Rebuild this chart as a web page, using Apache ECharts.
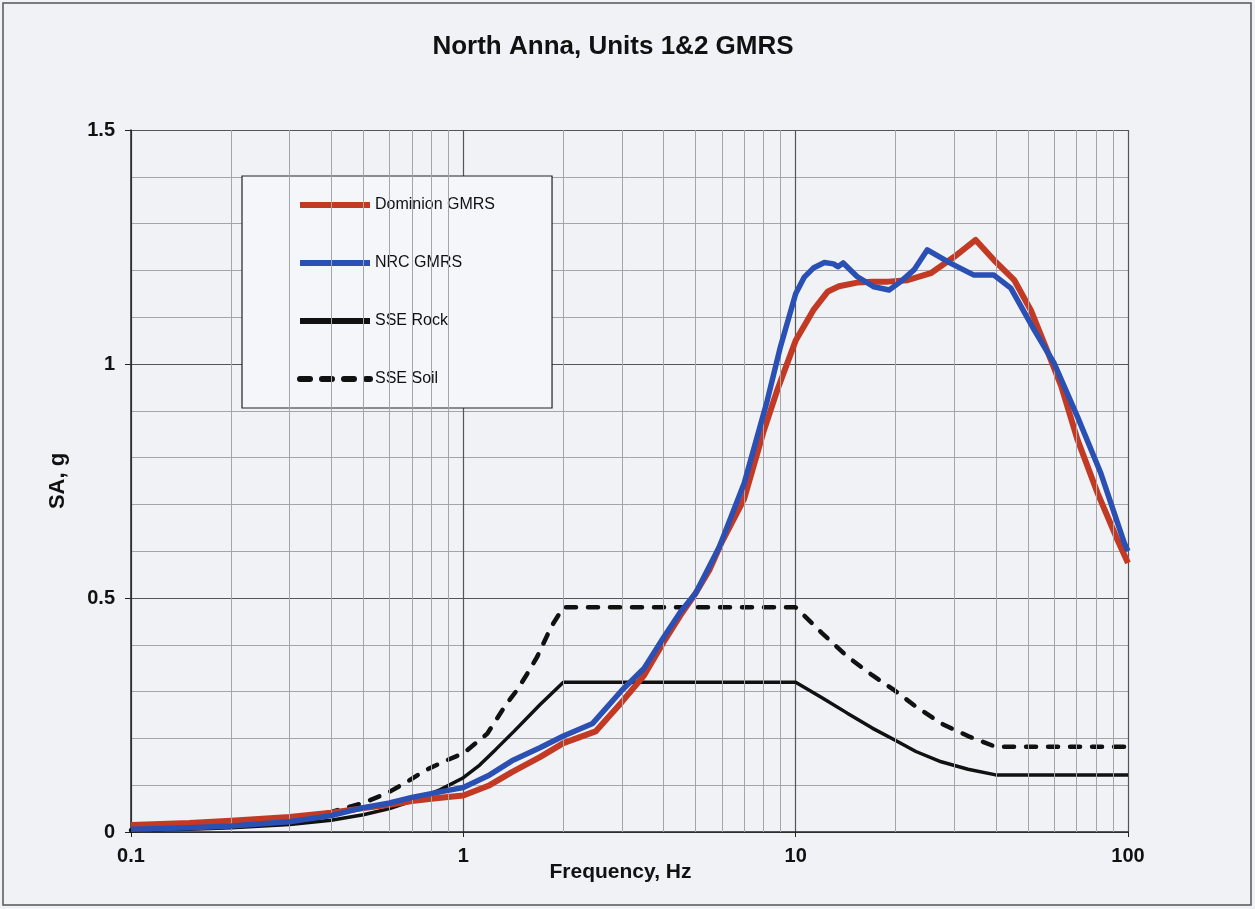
<!DOCTYPE html>
<html>
<head>
<meta charset="utf-8">
<script src="https://cdn.jsdelivr.net/npm/echarts@6/dist/echarts.min.js"></script>
<style>
html,body{margin:0;padding:0;background:#f1f2f6;}
#chart{width:1255px;height:909px;}
</style>
</head>
<body>
<div id="chart"></div>
<script>
var seriesNames = ['Dominion GMRS', 'NRC GMRS', 'SSE Rock', 'SSE Soil'];
var xTickLabels = ['0.1', '1', '10', '100'];
var yTickLabels = ['0', '0.5', '1', '1.5'];
var minorFreqs = [0.2,0.3,0.4,0.5,0.6,0.7,0.8,0.9,2,3,4,5,6,7,8,9,20,30,40,50,60,70,80,90];

var domFreq = [0.1,0.15,0.2,0.3,0.4,0.5,0.6,0.7,0.8,0.9,1,1.2,1.4,1.7,2,2.5,3,3.5,4,4.5,5,5.5,6,7,8,8.8,10,11.3,12.5,13.5,15.3,17,19,21.7,25.5,30,34.8,39.5,45.5,51,57,63,70.5,81,93,100];
var domSA = [0.015,0.019,0.024,0.032,0.041,0.051,0.058,0.066,0.071,0.075,0.078,0.1,0.128,0.16,0.19,0.215,0.278,0.335,0.405,0.463,0.51,0.56,0.62,0.712,0.855,0.944,1.05,1.115,1.155,1.166,1.174,1.176,1.176,1.179,1.194,1.229,1.265,1.222,1.179,1.115,1.03,0.952,0.838,0.724,0.624,0.575];

var nrcFreq = [0.1,0.15,0.2,0.3,0.4,0.5,0.6,0.7,0.8,0.9,1,1.2,1.4,1.7,2,2.45,3,3.5,4,4.5,5,5.9,7,8.2,9,10,10.6,11.3,12.2,13,13.4,13.9,15.3,17.2,19.1,20.7,22.7,24.9,29.3,34.4,39.5,44.4,52.2,60,70.5,82.9,97.5,100];
var nrcSA = [0.006,0.009,0.013,0.022,0.035,0.052,0.062,0.074,0.082,0.089,0.095,0.122,0.152,0.18,0.205,0.232,0.303,0.35,0.415,0.47,0.51,0.61,0.745,0.92,1.037,1.15,1.185,1.205,1.217,1.214,1.208,1.216,1.187,1.165,1.158,1.176,1.201,1.244,1.215,1.19,1.19,1.162,1.073,1.001,0.887,0.766,0.617,0.6];

var rockFreq = [0.1,0.15,0.2,0.3,0.4,0.5,0.6,0.7,0.85,1,1.12,1.25,1.42,1.7,2,10,12,14.3,17,19.8,23,27.4,33,40,100];
var rockSA = [0.004,0.006,0.009,0.016,0.025,0.037,0.05,0.066,0.09,0.116,0.143,0.176,0.215,0.272,0.32,0.32,0.287,0.254,0.222,0.197,0.172,0.15,0.134,0.122,0.122];

var soilFreq = [0.1,0.15,0.2,0.3,0.4,0.5,0.59,0.68,0.76,0.87,1,1.18,1.34,1.45,1.56,1.67,1.84,2,10,12,14.3,17,19.8,23,27.4,33,40,100];
var soilSA = [0.004,0.008,0.013,0.026,0.043,0.062,0.083,0.108,0.13,0.15,0.168,0.21,0.271,0.303,0.339,0.375,0.439,0.48,0.48,0.425,0.375,0.335,0.303,0.268,0.232,0.205,0.182,0.182];

function pairs(xs, ys) { return xs.map(function (x, i) { return [x, ys[i]]; }); }

var FONT = '"Liberation Sans", Arial, sans-serif';
var chart = echarts.init(document.getElementById('chart'), null, {renderer: 'canvas'});
chart.setOption({
  animation: false,
  backgroundColor: '#f1f2f6',
  title: {
    text: 'North Anna, Units 1&2 GMRS',
    left: 608, top: 29, textAlign: 'center',
    textStyle: {fontFamily: FONT, fontWeight: 'bold', fontSize: 26, color: '#111'}
  },
  graphic: [{
    type: 'rect', silent: true, z: 100,
    shape: {x: 3, y: 3, width: 1248, height: 902},
    style: {fill: 'none', stroke: '#555', lineWidth: 1.5}
  }],
  grid: {left: 131, right: 127, top: 130, bottom: 77},
  legend: {
    orient: 'vertical', left: 242, top: 176,
    padding: [21, 57, 21, 55],
    itemWidth: 70, itemHeight: 14, itemGap: 42,
    backgroundColor: '#f5f6f9', borderColor: '#222', borderWidth: 1.2,
    textStyle: {fontFamily: FONT, fontSize: 16, color: '#111'},
    itemStyle: {opacity: 0},
    data: [
      {name: seriesNames[0], lineStyle: {width: 6}, itemStyle: {opacity: 0}},
      {name: seriesNames[1], lineStyle: {width: 6}, itemStyle: {opacity: 0}},
      {name: seriesNames[2], lineStyle: {width: 6}, itemStyle: {opacity: 0}},
      {name: seriesNames[3], lineStyle: {width: 6}, itemStyle: {opacity: 0}}
    ]
  },
  xAxis: {
    type: 'log', logBase: 10, min: 0.1, max: 100,
    name: 'Frequency, Hz', nameLocation: 'middle', nameGap: 30, nameMoveOverlap: false,
    nameTextStyle: {fontFamily: FONT, fontWeight: 'bold', fontSize: 21, color: '#111', padding: [0, 18, 0, 0]},
    axisLine: {lineStyle: {color: '#222', width: 1.5}},
    axisTick: {show: true, length: 5, lineStyle: {color: '#222'}},
    axisLabel: {
      margin: 14, fontFamily: FONT, fontWeight: 'bold', fontSize: 20, color: '#111',
      formatter: function (v) {
        var k = Math.round(Math.log10(v)) + 1;
        return xTickLabels[k] !== undefined ? xTickLabels[k] : '';
      }
    },
    splitLine: {show: true, lineStyle: {color: '#555', width: 1.2}},
    minorTick: {show: false}, minorSplitLine: {show: false}
  },
  yAxis: {
    type: 'value', min: 0, max: 1.5, interval: 0.5,
    name: 'SA, g', nameLocation: 'middle', nameGap: 62, nameRotate: 90, nameMoveOverlap: false,
    nameTextStyle: {fontFamily: FONT, fontWeight: 'bold', fontSize: 22, color: '#111'},
    axisLine: {show: true, lineStyle: {color: '#222', width: 1.5}},
    axisTick: {show: true, length: 6, lineStyle: {color: '#222'}},
    axisLabel: {
      margin: 16, fontFamily: FONT, fontWeight: 'bold', fontSize: 20, color: '#111',
      formatter: function (v) { return yTickLabels[Math.round(v / 0.5)]; }
    },
    splitLine: {show: true, lineStyle: {color: '#555', width: 1.2}},
    minorTick: {show: false, splitNumber: 5},
    minorSplitLine: {show: true, lineStyle: {color: '#a3a5aa', width: 1}}
  },
  series: [
    {
      name: 'grid-minor', type: 'line', data: [], silent: true, z: 1,
      markLine: {
        silent: true, symbol: ['none', 'none'], animation: false,
        label: {show: false},
        lineStyle: {color: '#a3a5aa', type: 'solid', width: 1},
        emphasis: {disabled: true},
        data: minorFreqs.map(function (f) { return {xAxis: f}; })
      }
    },
    {
      name: seriesNames[3], type: 'line', data: pairs(soilFreq, soilSA),
      showSymbol: false, symbol: 'none', z: 3,
      lineStyle: {color: '#111', width: 4.5, type: [10, 12], cap: 'round'},
      itemStyle: {color: '#111'}
    },
    {
      name: seriesNames[2], type: 'line', data: pairs(rockFreq, rockSA),
      showSymbol: false, symbol: 'none', z: 3,
      lineStyle: {color: '#111', width: 3.5},
      itemStyle: {color: '#111'}
    },
    {
      name: seriesNames[0], type: 'line', data: pairs(domFreq, domSA),
      showSymbol: false, symbol: 'none', z: 4,
      lineStyle: {color: '#c23a24', width: 6, join: 'round'},
      itemStyle: {color: '#c23a24'}
    },
    {
      name: seriesNames[1], type: 'line', data: pairs(nrcFreq, nrcSA),
      showSymbol: false, symbol: 'none', z: 5,
      lineStyle: {color: '#2b50b4', width: 5.5, join: 'round'},
      itemStyle: {color: '#2b50b4'}
    }
  ]
});
</script>
</body>
</html>
